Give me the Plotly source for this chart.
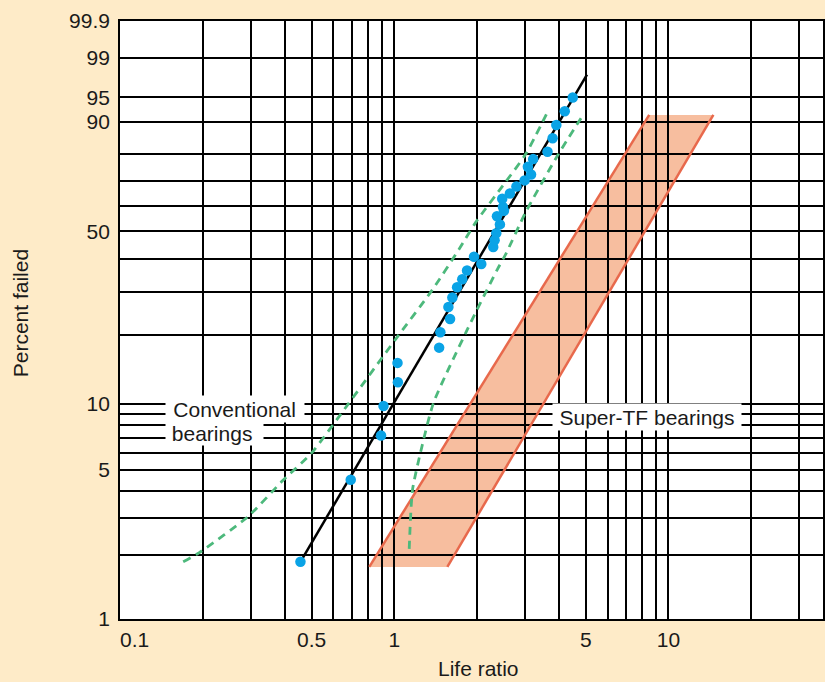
import numpy as np
import plotly.graph_objects as go

# ---------------- data ----------------
life_ratio = [0.455, 0.694, 0.895, 0.914, 1.031, 1.028, 1.458, 1.473, 1.598, 1.576,
              1.629, 1.695, 1.770, 1.843, 2.077, 1.954, 2.296, 2.323, 2.355, 2.429,
              2.369, 2.512, 2.491, 2.476, 2.641, 2.790, 2.988, 3.154, 3.071, 3.210,
              3.622, 3.780, 3.899, 4.186, 4.477]
pct_failed = [1.86, 4.50, 7.19, 9.78, 12.5, 15.2, 17.7, 20.6, 23.4, 26.2,
              28.6, 31.4, 33.7, 36.4, 38.5, 40.9, 44.3, 46.7, 49.3, 52.7,
              55.9, 58.1, 59.6, 62.9, 65.0, 67.8, 70.2, 72.5, 75.5, 78.3,
              80.9, 85.3, 89.1, 92.4, 95.0]

fit_x = [0.455, 5.045]
fit_pct = [1.86, 97.86]

upper_x = [0.170, 0.194, 0.293, 0.393, 0.498, 0.676, 1.014, 1.378, 1.723, 1.982, 2.548, 3.012, 3.65]
upper_pct = [1.86, 2.05, 3.03, 4.47, 5.95, 9.9, 19.3, 30.7, 43.5, 53.5, 69.6, 80.0, 92.6]

lower_x = [1.134, 1.166, 1.261, 1.39, 1.85, 2.375, 2.548, 3.012, 3.925, 4.93]
lower_pct = [2.14, 4.04, 6.38, 10.1, 21.2, 36.7, 41.7, 57.4, 79.3, 92.0]

band_left_x = [0.811, 8.507]
band_right_x = [1.562, 14.58]
band_pct = [1.76, 91.6]

x_tick_vals = [0.1, 0.5, 1, 5, 10]
x_tick_text = ["\u00a0\u00a0\u00a0\u00a0\u00a00.1", "0.5", "1", "5", "10"]
x_minor_vals = [0.2, 0.3, 0.4, 0.6, 0.7, 0.8, 0.9, 2, 3, 4, 6, 7, 8, 9, 20, 30]
x_range = [0.1, 36.6]

y_tick_vals = [1, 5, 10, 50, 90, 95, 99, 99.9]
y_tick_text = ["1", "5", "10", "50", "90", "95", "99", "99.9"]
y_minor_vals = [2, 3, 4, 6, 7, 8, 9, 20, 30, 40, 60, 70, 80]
y_range = [1, 99.9]

# ---------------- scales ----------------
def wb(p):
    p = np.asarray(p, dtype=float) / 100.0
    return np.log(-np.log(1.0 - p))

def lg(x):
    return np.log10(np.asarray(x, dtype=float))

FONT = "Liberation Sans, Arial, Helvetica, sans-serif"
BG = "#FEEBC8"
GRID = "#000000"

fig = go.Figure()

# orange band fill (below the grid)
lx = lg(band_left_x)
rx = lg(band_right_x)
yb, yt = wb(band_pct)
path = (f"M {lx[0]},{yb} L {rx[0]},{yb} L {rx[1]},{yt} L {lx[1]},{yt} Z")
fig.add_shape(type="path", path=path, xref="x", yref="y",
              fillcolor="#F7BE9F", line=dict(width=0), layer="below")

# band edges
fig.add_trace(go.Scatter(x=lx, y=wb(band_pct), mode="lines",
                         line=dict(color="#E8694C", width=2.5), hoverinfo="skip"))
fig.add_trace(go.Scatter(x=rx, y=wb(band_pct), mode="lines",
                         line=dict(color="#E8694C", width=2.5), hoverinfo="skip"))

# confidence bands
for bx, bp in ((upper_x, upper_pct), (lower_x, lower_pct)):
    fig.add_trace(go.Scatter(x=lg(bx), y=wb(bp), mode="lines",
                             line=dict(color="#4DB97C", width=2.8, dash="8px,6px",
                                       shape="spline", smoothing=0.6),
                             hoverinfo="skip"))

# fitted line
fig.add_trace(go.Scatter(x=lg(fit_x), y=wb(fit_pct), mode="lines",
                         line=dict(color="black", width=2.5), hoverinfo="skip"))

# data points
fig.add_trace(go.Scatter(x=lg(life_ratio), y=wb(pct_failed), mode="markers",
                         marker=dict(color="#0AA3E6", size=10.5, line=dict(width=0)),
                         hovertemplate="%{customdata[0]}, %{customdata[1]}%<extra></extra>",
                         customdata=np.c_[life_ratio, pct_failed]))

grid = dict(showgrid=True, gridcolor=GRID, gridwidth=1.5, zeroline=False,
            showline=True, mirror=True, linecolor=GRID, linewidth=1.7,
            ticks="", tickfont=dict(family=FONT, size=21, color="#1a1a1a"))

fig.update_xaxes(**grid, range=list(lg(x_range)), tickmode="array",
                 tickvals=list(lg(x_tick_vals)), ticktext=x_tick_text,
                 ticklabelstandoff=1,
                 minor=dict(tickmode="array", tickvals=list(lg(x_minor_vals)),
                            showgrid=True, gridcolor=GRID, gridwidth=1.5, ticks=""))
fig.update_yaxes(**grid, range=list(wb(y_range)), tickmode="array",
                 tickvals=list(wb(y_tick_vals)), ticktext=y_tick_text,
                 ticklabelstandoff=4,
                 minor=dict(tickmode="array", tickvals=list(wb(y_minor_vals)),
                            showgrid=True, gridcolor=GRID, gridwidth=1.5, ticks=""))

# plot area geometry (pixels) for paper-coordinate annotations
L, T, W, H = 120, 21, 705, 598
def px(xp):
    return (xp - L) / W
def py(yp):
    return (T + H - yp) / H

ann_font = dict(family=FONT, size=21, color="#1a1a1a")
annotations = [
    dict(text="\u00a0Conventional", x=px(165), y=py(408.5), xanchor="left", yanchor="middle",
         width=135, align="left", bgcolor="white", borderpad=1.5),
    dict(text="\u00a0bearings", x=px(165), y=py(433.5), xanchor="left", yanchor="middle",
         width=97, align="left", bgcolor="white", borderpad=0),
    dict(text="Super-TF bearings", x=px(553.5), y=py(417), xanchor="left", yanchor="middle",
         width=185, align="center", bgcolor="white", borderpad=1.5),
    dict(text="Percent failed", x=px(20), y=py(313), xanchor="center", yanchor="middle",
         textangle=-90),
    dict(text="Life ratio", x=px(480), y=py(668), xanchor="center", yanchor="middle"),
]
for a in annotations:
    fig.add_annotation(xref="paper", yref="paper", showarrow=False, font=ann_font, **a)

fig.update_layout(width=825, height=682, autosize=False,
                  margin=dict(l=L, r=0, t=T, b=682 - T - H, pad=0),
                  paper_bgcolor=BG, plot_bgcolor="white", showlegend=False,
                  font=dict(family=FONT, size=21, color="#1a1a1a"))

fig.write_html("out.html",
               config={"displayModeBar": False},
               post_script="document.documentElement.style.margin='0';"
                           "document.body.style.margin='0';"
                           "document.body.style.padding='0';"
                           "document.body.style.overflow='hidden';")
